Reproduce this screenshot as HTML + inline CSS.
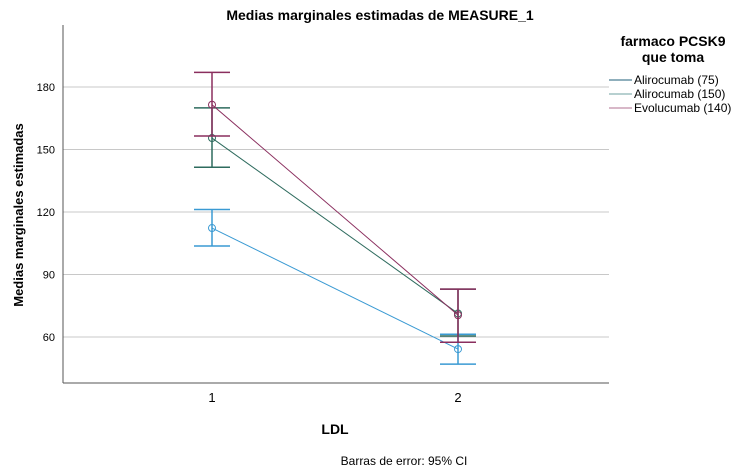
<!DOCTYPE html>
<html><head><meta charset="utf-8"><style>
body{margin:0;background:#fff;font-family:"Liberation Sans",sans-serif}
svg{display:block}
</style></head><body>
<svg width="750" height="474">
<text x="380" y="20" text-anchor="middle" font-size="14" font-weight="bold" fill="#000">Medias marginales estimadas de MEASURE_1</text>
<g id="grid"></g>
<line x1="63" y1="25" x2="63" y2="383" stroke="#555"/>
<line x1="63" y1="383" x2="609" y2="383" stroke="#555"/>
<g id="ticks"></g>
<g id="marks"></g>
<text x="23" y="215" transform="rotate(-90 23 215)" text-anchor="middle" font-size="13" font-weight="bold">Medias marginales estimadas</text>
<text x="335" y="434" text-anchor="middle" font-size="14" font-weight="bold">LDL</text>
<text x="404" y="465" text-anchor="middle" font-size="12">Barras de error: 95% CI</text>
<text x="673" y="46" text-anchor="middle" font-size="14" font-weight="bold">farmaco PCSK9</text>
<text x="673" y="62" text-anchor="middle" font-size="14" font-weight="bold">que toma</text>
<g id="legend"></g>
</svg>
<script>
const categories=["1","2"];
const yTicks=[60,90,120,150,180];
const seriesNames=["Alirocumab (75)","Alirocumab (150)","Evolucumab (140)"];
const means=[[112.3,54.2],[155.5,71.3],[171.5,70.5]];
const upper=[[121.2,61.3],[170,83],[187,83]];
const lower=[[103.7,47],[141.5,60.5],[156.5,57.5]];
const colors=["#3a9ad3","#2e6b5e","#8a2e5e"];
const legendColors=["#1f5f7a","#6fa0a0","#b07090"];
const NS="http://www.w3.org/2000/svg";
function y(v){return 87+(180-v)*250/120;}
function x(i){return 212+i*246;}
function mk(tag,attrs,parent){const e=document.createElementNS(NS,tag);for(const k in attrs)e.setAttribute(k,attrs[k]);parent.appendChild(e);return e;}
const grid=document.getElementById('grid'),ticks=document.getElementById('ticks'),marks=document.getElementById('marks'),legend=document.getElementById('legend');
yTicks.forEach(t=>{
 const l=mk('line',{x1:63,x2:609,y1:y(t),y2:y(t),stroke:'#c8c8c8'},grid);
 
 
 const tx=mk('text',{x:55,y:y(t)+4,'text-anchor':'end','font-size':11},ticks);
 tx.textContent=t;
 
 
});
categories.forEach((c,i)=>{
 const tx=mk('text',{x:x(i),y:402,'text-anchor':'middle','font-size':13},ticks);
 tx.textContent=c;
 
 
});
means.forEach((s,si)=>{
 const col=colors[si];
 const line=mk('polyline',{points:s.map((v,i)=>x(i)+','+y(v)).join(' '),fill:'none',stroke:col,'stroke-width':1},marks);
 
 
 s.forEach((v,i)=>{
  const g=mk('g',{stroke:col,'stroke-width':1.5,fill:'none'},marks);
  
  
  mk('line',{x1:x(i),x2:x(i),y1:y(upper[si][i]),y2:y(lower[si][i])},g);
  mk('line',{x1:x(i)-18,x2:x(i)+18,y1:y(upper[si][i]),y2:y(upper[si][i])},g);
  mk('line',{x1:x(i)-18,x2:x(i)+18,y1:y(lower[si][i]),y2:y(lower[si][i])},g);
  const c=mk('circle',{cx:x(i),cy:y(v),r:3.5,stroke:col,fill:'none'},marks);
  
  
 });
});
seriesNames.forEach((n,i)=>{
 const g=mk('g',{},legend);
 
 
 mk('line',{x1:609,x2:632,y1:80+i*14,y2:80+i*14,stroke:legendColors[i]},g);
 const t=mk('text',{x:634,y:84+i*14,'font-size':12},g);
 t.textContent=n;
});
</script>
</body></html>
